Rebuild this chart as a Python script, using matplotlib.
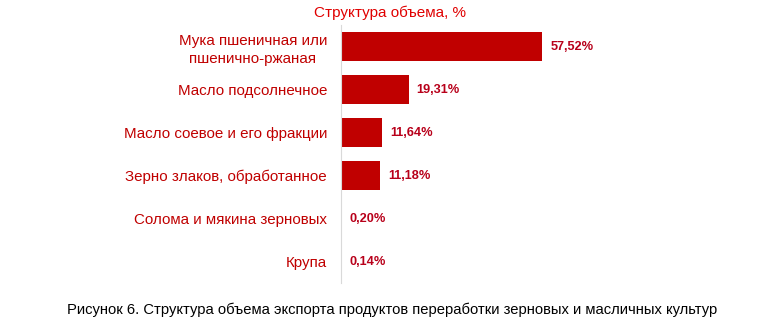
import matplotlib.pyplot as plt

plt.rcParams['font.family'] = ['Liberation Sans', 'DejaVu Sans']

# Data
categories = ["Мука пшеничная или\nпшенично-ржаная", "Масло подсолнечное",
              "Масло соевое и его фракции", "Зерно злаков, обработанное",
              "Солома и мякина зерновых", "Крупа"]
shares = [57.52, 19.31, 11.64, 11.18, 0.20, 0.14]
value_labels = ["57,52%", "19,31%", "11,64%", "11,18%", "0,20%", "0,14%"]

red = "#c00000"

fig = plt.figure(figsize=(7.81, 3.25), dpi=100)
ax = fig.add_axes([0.4366, 0.129, 0.5, 0.794])

y = list(range(len(categories)))
ax.barh(y, shares, height=0.67, color=red)
ax.set_ylim(len(categories) - 0.5, -0.5)
ax.set_xlim(0, 0.5 * 781 / 3.5)

for yi, v, lab in zip(y, shares, value_labels):
    ax.text(v + 2.3, yi, lab, va='center', ha='left', fontsize=9.2,
            fontweight='bold', color="#b8001a")

ax.set_yticks(y)
ax.set_yticklabels(categories, fontsize=10.9, color=red, linespacing=1.35,
                   multialignment='center')
ax.tick_params(axis='y', length=0, pad=10)
ax.set_xticks([])
for s in ['top', 'right', 'bottom']:
    ax.spines[s].set_visible(False)
ax.spines['left'].set_color('#d9d9d9')
ax.spines['left'].set_linewidth(0.8)

fig.text(0.4994, 0.962, "Структура объема, %", ha='center', va='center',
         fontsize=11, color="#e00000")
fig.text(0.502, 0.046, "Рисунок 6. Структура объема экспорта продуктов переработки зерновых и масличных культур",
         ha='center', va='center', fontsize=10.6, color='black')

fig.savefig("out.png", dpi=100)
